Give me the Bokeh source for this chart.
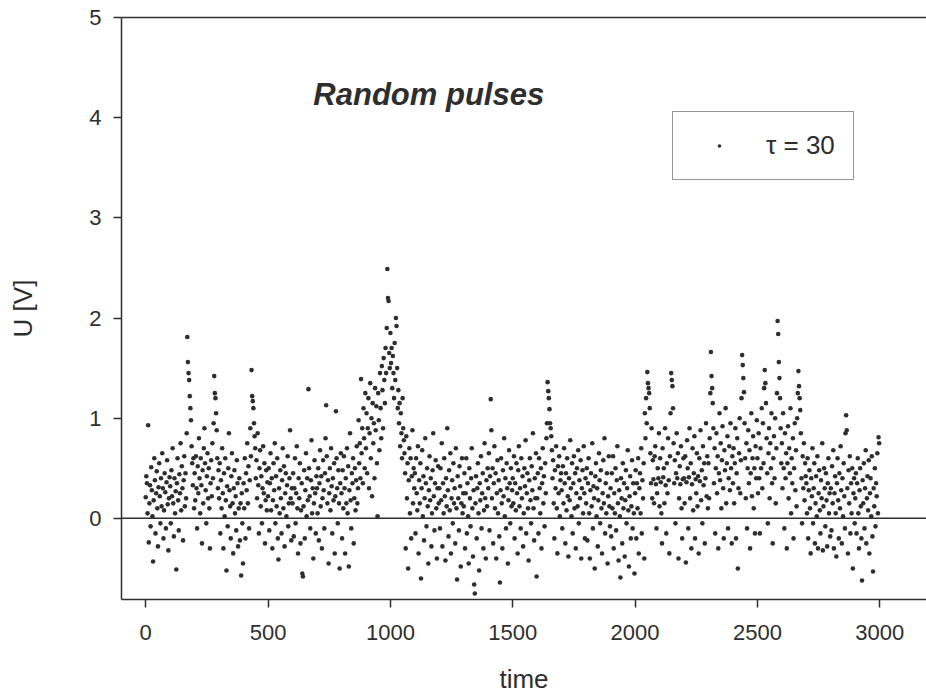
import numpy as np
from bokeh.plotting import figure
from bokeh.models import Range1d, Span, Legend, LegendItem, FixedTicker, Label, LinearAxis
from bokeh.embed import file_html
from bokeh.resources import INLINE

# ---------------- data: U [V], 40 samples per 100 time units ----------------
STEP = 2.5
u00 = [.21,.42,.35,.05,.93,-.24,.15,.33,-.08,.51,.28,.02,-.43,.18,.6,.38,-.15,.25,.47,.1,-.28,.31,.55,.22,-.05,.4,.12,.65,.3,-.2,.08,.45,.26,-.1,.36,.58,.14,-.32,.2,.41]
u01 = [.32,-.05,.48,.22,.7,.15,-.18,.4,.05,.27,-.51,.35,.6,.18,-.12,.44,.25,.75,.08,.52,.3,-.22,.38,.62,.12,.45,.2,.85,1.81,1.56,1.45,1.38,1.22,1.1,.98,.72,.55,.33,.6,.1]
u02 = [.45,.18,.62,.3,-.1,.52,.25,.8,.4,.05,.6,.33,-.25,.48,.15,.7,.9,.55,.28,-.05,.42,.65,.2,.5,.1,-.3,.35,.58,.22,.75,.4,.95,1.42,1.25,1.2,1.05,.88,.6,.3,.48]
u03 = [.2,.55,-.15,.38,.1,.7,.25,-.3,.45,.02,.6,.18,-.52,.32,-.08,.5,.85,.28,.12,-.2,.42,.65,.15,-.35,.3,.48,.05,.22,-.12,.58,.35,-.28,.1,.4,-.22,.15,-.57,.25,-.05,-.45]
u04 = [.35,.1,.6,-.2,.45,.28,.75,.15,.52,-.1,.38,.9,.62,1.48,1.22,1.17,1.1,.95,.82,.7,.4,.58,.2,.85,.33,-.15,.5,.68,.12,.42,-.05,.3,.72,.25,.55,-.25,.18,.48,.08,.36]
u05 = [.22,.5,-.12,.35,.65,.08,.4,-.3,.18,.55,.28,.75,-.05,.42,.12,.6,-.2,-.41,.3,.05,.48,.2,-.15,.38,.7,.1,.52,-.28,.25,.45,.02,.33,.62,-.08,.15,.4,.88,.2,-.22,.3]
u06 = [.15,.45,-.18,.3,.6,-.05,.25,.72,.1,-.35,.4,.2,.55,-.25,.08,.35,-.55,-.58,.12,.48,-.2,.28,.65,.02,.4,.18,1.29,.5,.22,-.1,.38,.78,.05,.3,-.4,.15,.58,.25,-.15,.42]
u07 = [.3,.05,.5,-.22,.35,.68,.12,.42,-.3,.2,.58,.28,-.1,.45,.8,1.13,.62,.15,.38,-.45,.25,.5,.08,.7,.32,-.15,.4,.18,.55,-.35,.22,1.07,.6,.3,-.05,.48,.15,-.5,.35,.65]
u08 = [.25,-.2,.48,.1,.62,.3,-.35,.4,.15,.7,.05,.52,-.48,.28,.85,.18,-.1,.45,.35,.6,-.25,.2,.5,.08,.38,.72,.15,.3,.98,.55,.75,.4,1.39,.65,.9,.35,1.1,.8,.5,1.25]
u09 = [.7,1.05,.45,.9,1.2,.3,.85,1.35,.6,1.0,.22,1.15,.75,.95,.4,1.3,.88,1.12,.55,.02,1.25,.98,.68,1.45,1.1,.8,1.52,1.28,.9,1.6,1.38,1.15,1.7,1.45,1.9,2.49,2.2,2.17,1.65,1.5]
u10 = [1.85,1.55,1.7,1.3,1.62,1.45,1.2,1.75,1.38,2.0,1.92,1.5,1.1,1.28,.95,1.15,.72,1.05,.85,.6,1.2,.9,.78,.65,.45,-.3,.82,.2,.55,-.5,.38,.7,.05,.6,-.2,.42,.88,.15,.5,.3]
u11 = [.45,-.15,.6,.25,.08,.72,-.35,.38,.15,.55,-.6,.3,.68,.02,.42,-.22,.2,.8,.35,-.08,.5,.12,-.45,.28,.62,.18,.4,-.28,.05,.48,.85,.22,-.12,.35,.58,.1,-.4,.3,.52,.15]
u12 = [.3,-.1,.5,.18,.75,-.28,.35,.05,.6,.22,-.42,.4,.12,.9,.28,-.18,.48,.08,.65,-.35,.2,.38,-.05,.55,.15,.3,-.25,.7,.1,-.61,.42,.2,-.12,.52,.32,-.48,.15,.6,.05,.25]
u13 = [.12,.45,-.3,.25,.6,-.15,.35,.02,-.45,.5,.2,-.08,.4,.7,.1,-.38,.28,-.66,-.75,.15,.42,-.2,.3,.55,.05,-.52,.35,.18,.62,-.1,.25,.45,-.3,.08,.75,.2,-.4,.38,.12,.5]
u14 = [.3,.65,-.12,.42,1.19,.88,.2,.5,-.25,.35,.72,.1,.45,-.4,.25,.58,.05,.38,-.18,-.64,.28,.6,.15,-.3,.48,.22,.8,.02,.4,-.1,.55,.3,-.45,.18,.68,.35,-.05,.5,.12,.28]
u15 = [.4,.15,.62,-.2,.35,.08,.55,.25,-.35,.48,.72,.12,.3,-.1,.6,.2,.42,-.28,.05,.5,.32,.78,-.15,.25,.45,.1,-.42,.38,.6,.18,-.05,.52,.28,.85,.1,-.22,.4,.2,.65,-.58]
u16 = [.2,.45,-.15,.6,.3,.05,.5,-.3,.35,.7,.15,.42,-.08,.55,.25,.8,.95,1.36,1.27,1.2,1.09,.95,.9,.82,.68,.4,.58,.15,-.2,.48,.3,.72,.1,-.35,.52,.25,.62,.02,.38,.45]
u17 = [.28,-.1,.52,.15,.7,.35,-.25,.45,.08,.6,.22,-.38,.4,.18,.78,.3,.02,.55,-.15,.35,.62,.1,.45,-.3,.25,.5,.12,.68,-.05,.38,.2,.58,-.4,.3,.48,.05,.72,.25,-.2,.4]
u18 = [.15,.5,-.22,.35,.6,.05,-.4,.28,.45,.12,.75,-.1,.32,.2,-.5,.42,.55,.02,.3,-.28,.18,.65,.38,-.05,.48,.1,-.35,.25,.58,.15,.8,-.15,.35,.05,.45,-.45,.22,.62,.12,-.08]
u19 = [.3,-.18,.45,.1,.62,-.3,.25,.05,.5,-.12,.38,.72,.15,-.42,.28,.02,-.59,.4,.2,-.25,.55,.1,.35,-.38,.18,.48,-.05,.3,.68,.08,-.48,.22,.42,-.2,.12,.58,-.1,.35,.05,-.55]
u20 = [.25,.48,-.2,.35,.1,.6,-.35,.3,.45,.05,.7,-.15,.38,.2,.55,-.4,1.05,.8,1.2,.95,1.46,1.35,1.3,1.25,1.1,.65,.35,.9,.2,.58,.39,.15,.62,.72,.34,-.1,.25,.5,.4,.85]
u21 = [.12,.6,.36,.05,-.25,.7,.41,.5,.15,.9,.33,-.15,.55,.25,.8,.38,-.35,.62,1.05,1.45,1.38,1.32,1.1,.75,.35,.58,-.05,.45,.85,.4,.65,-.4,.2,.52,.34,.72,.1,-.2,.39,.6]
u22 = [.4,.15,.62,-.44,.36,.78,.5,-.1,.41,.9,.2,.55,-.3,.34,.7,.08,.45,.82,-.2,.39,.25,.65,.12,.42,-.35,.6,.37,.88,.18,.48,-.05,.72,.33,.55,-.25,.4,.95,.22,.62,.1]
u23 = [.55,.2,.8,1.25,1.66,1.42,1.3,1.15,.9,.35,.7,-.15,.5,.85,.25,.62,-.3,.45,1.05,.38,.75,.1,.58,.92,.3,-.2,.68,.48,1.1,.15,.55,.82,-.1,.4,.72,.28,.95,.5,-.25,.62]
u24 = [.35,.7,.15,.55,.9,-.2,.45,.8,-.5,.3,.65,1.0,.25,.58,1.2,1.63,1.53,1.4,1.26,.95,.6,.2,.75,-.1,.5,.88,.35,.68,-.3,.45,1.05,.22,.6,.82,.1,.5,-.15,.72,.4,.98]
u25 = [.6,.25,.85,.4,-.15,.7,.5,1.1,.3,.95,.55,1.3,1.48,1.35,1.15,.8,.45,-.05,.65,.9,.2,.75,.5,1.05,.35,-.25,.6,.82,.4,1.0,.15,.7,1.25,1.97,1.84,1.56,1.4,1.2,.9,.55]
u26 = [.75,.3,1.05,.5,-.1,.85,.4,.65,-.3,.55,.92,.2,.7,.45,1.1,.05,.6,.35,.8,-.2,.5,.95,.28,.68,.12,1.0,1.25,1.47,1.32,1.2,1.08,.85,.4,-.05,.62,.3,.75,.18,.55,.42]
u27 = [.35,.05,.6,-.2,.28,.48,.1,-.35,.4,.22,.7,-.05,.3,.55,-.25,.15,.42,.02,.62,-.3,.25,.48,.08,-.15,.38,.2,.75,-.32,.12,.5,.3,-.08,.45,.18,-.28,.35,.6,.05,.25,-.18]
u28 = [.3,-.12,.52,.15,.68,-.3,.25,.42,.05,-.38,.35,.6,.18,-.2,.45,.1,.72,.28,-.25,.4,.02,.55,.22,-.1,.85,1.03,.88,.3,-.35,.48,.15,.62,-.15,.35,.05,.5,-.5,.25,.4,-.05]
u29 = [.2,.45,-.15,.35,.6,.05,-.3,.28,.5,.12,-.2,-.62,.38,.15,.55,-.1,.3,.68,-.25,.2,.42,.08,.58,-.35,.25,.4,.02,.62,-.18,-.53,.3,.12,.5,-.08,.35,.22,.65,.05,.81,.75]

x_ticks = [0, 500, 1000, 1500, 2000, 2500, 3000]
y_ticks = [0, 1, 2, 3, 4, 5]
title_text = "Random pulses"
legend_text = "τ = 30"
x_label = "time"
y_label = "U [V]"

segments = [u00, u01, u02, u03, u04, u05, u06, u07, u08, u09, u10, u11, u12, u13, u14,
            u15, u16, u17, u18, u19, u20, u21, u22, u23, u24, u25, u26, u27, u28, u29]
u = np.concatenate([np.asarray(s, dtype=float) for s in segments])
t = np.arange(len(u)) * STEP

# ---------------- figure ----------------
FONT = "Liberation Sans"
INK = "#2e2e2e"

p = figure(frame_width=805, frame_height=582,
           x_range=Range1d(-99, 3191), y_range=Range1d(-0.81, 5.0),
           output_backend="svg", toolbar_location=None,
           min_border_left=121, min_border_top=17, min_border_right=0, min_border_bottom=10,
           background_fill_color="white", border_fill_color="white")
p.outline_line_color = None
p.xgrid.visible = False
p.ygrid.visible = False

for ax, ticks in ((p.xaxis[0], x_ticks), (p.yaxis[0], y_ticks)):
    ax.ticker = FixedTicker(ticks=ticks)
    ax.axis_line_color = INK
    ax.axis_line_width = 1.5
    ax.major_tick_line_color = INK
    ax.major_tick_line_width = 1.5
    ax.major_tick_out = 8
    ax.major_tick_in = 0
    ax.minor_tick_line_color = None
    ax.major_label_text_font = FONT
    ax.major_label_text_font_size = "22px"
    ax.major_label_text_color = INK
    ax.axis_label_text_font = FONT
    ax.axis_label_text_font_size = "26px"
    ax.axis_label_text_font_style = "normal"
    ax.axis_label_text_color = INK

p.xaxis.axis_label = x_label
p.yaxis.axis_label = y_label
p.xaxis.major_label_standoff = 17
p.xaxis.axis_label_standoff = 21
p.yaxis.major_label_standoff = 12
p.yaxis.axis_label_standoff = 48

top = LinearAxis(ticker=FixedTicker(ticks=[]), major_label_text_font_size="0px",
                 axis_line_color=INK, axis_line_width=1.5,
                 major_tick_line_color=None, minor_tick_line_color=None)
p.add_layout(top, "above")

p.add_layout(Span(location=0, dimension="width", line_color=INK, line_width=1.5))

r = p.scatter(t, u, marker="circle", size=4.6, fill_color=INK, line_color=None)

p.add_layout(Label(x=685, y=4.235, text=title_text, text_font=FONT, text_font_size="31px",
                   text_font_style="bold italic", text_color=INK, text_baseline="alphabetic"))

legend = Legend(items=[LegendItem(label=legend_text, renderers=[r])],
                location=(551, 419), orientation="vertical",
                padding=18, spacing=0, margin=0,
                glyph_width=56, glyph_height=9, label_height=31, label_standoff=19,
                label_text_font=FONT, label_text_font_size="26px", label_text_color=INK,
                border_line_color=INK, border_line_width=1.2,
                background_fill_color="white", background_fill_alpha=1.0)
p.add_layout(legend, "center")

open("out.html", "w").write(file_html(p, INLINE))
